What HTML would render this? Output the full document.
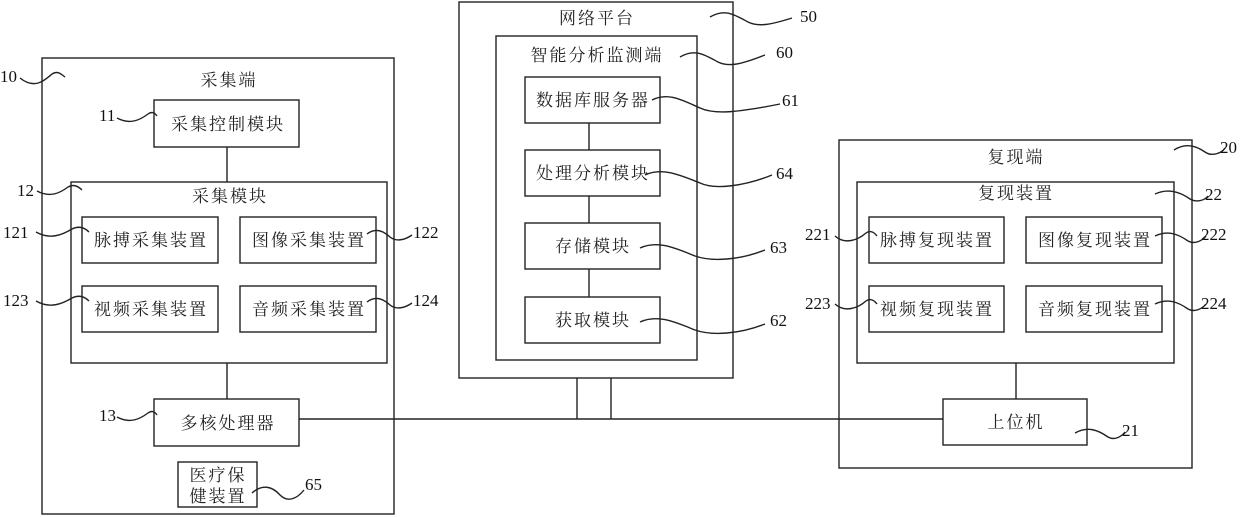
<!DOCTYPE html>
<html><head><meta charset="utf-8"><style>
html,body{margin:0;padding:0;background:#fff;}
svg{display:block}
.c{font-family:"Liberation Serif","Noto Serif CJK SC","Noto Sans CJK SC",serif;font-size:17px;letter-spacing:2px;fill:#222;text-anchor:middle}
.n{font-family:"Liberation Serif",serif;font-size:17px;fill:#111}
</style></head><body>
<svg width="1240" height="517" viewBox="0 0 1240 517" xmlns="http://www.w3.org/2000/svg">
<g fill="none" stroke="#222" stroke-width="1.4">
<rect x="42" y="58" width="352" height="456"/>
<rect x="154" y="100" width="145" height="47"/>
<rect x="71" y="182" width="316" height="181"/>
<rect x="82" y="217" width="136" height="46"/>
<rect x="240" y="217" width="136" height="46"/>
<rect x="82" y="286" width="136" height="46"/>
<rect x="240" y="286" width="136" height="46"/>
<rect x="154" y="399" width="145" height="47"/>
<rect x="178" y="462" width="79" height="45"/>
<line x1="227" y1="147" x2="227" y2="182"/>
<line x1="227" y1="363" x2="227" y2="399"/>
<rect x="459" y="2" width="274" height="376"/>
<rect x="496" y="36" width="201" height="324"/>
<rect x="525" y="77" width="135" height="46"/>
<rect x="525" y="150" width="135" height="46"/>
<rect x="525" y="223" width="135" height="46"/>
<rect x="525" y="297" width="135" height="46"/>
<line x1="589" y1="123" x2="589" y2="150"/>
<line x1="589" y1="196" x2="589" y2="223"/>
<line x1="589" y1="269" x2="589" y2="297"/>
<line x1="577" y1="378" x2="577" y2="419"/>
<line x1="611" y1="378" x2="611" y2="419"/>
<line x1="299" y1="419" x2="943" y2="419"/>
<rect x="839" y="140" width="353" height="328"/>
<rect x="857" y="182" width="317" height="181"/>
<rect x="869" y="217" width="135" height="46"/>
<rect x="1026" y="217" width="136" height="46"/>
<rect x="869" y="286" width="135" height="46"/>
<rect x="1026" y="286" width="136" height="46"/>
<rect x="943" y="399" width="144" height="46"/>
<line x1="1016" y1="363" x2="1016" y2="399"/>
<path d="M20 78 C35 90,45 80,52 74 C58 70,62 75,65 77"/>
<path d="M117 118 C130 125,140 120,148 114 C152 111,155 113,157 116"/>
<path d="M37 191 C50 198,60 193,68 187 C73 184,78 186,82 190"/>
<path d="M36 232 C50 240,62 235,72 229 C78 226,84 227,89 232"/>
<path d="M36 301 C50 309,62 304,72 298 C78 295,84 296,89 301"/>
<path d="M117 417 C130 424,140 419,148 413 C152 410,155 412,157 415"/>
<path d="M367 234 C375 228,382 230,390 237 C396 242,405 240,412 235"/>
<path d="M367 302 C375 296,382 298,390 305 C396 310,405 308,412 303"/>
<path d="M252 493 C262 484,272 486,280 495 C287 502,296 500,304 490"/>
<path d="M710 17 C725 8,735 15,748 22 C758 27,770 25,792 18"/>
<path d="M680 57 C695 48,705 55,718 62 C728 67,740 65,765 55"/>
<path d="M652 100 C668 92,682 100,700 108 C715 115,740 112,780 104"/>
<path d="M645 175 C662 167,680 175,700 183 C715 190,745 186,772 175"/>
<path d="M640 248 C658 240,675 248,695 256 C712 262,740 260,765 250"/>
<path d="M640 322 C658 314,675 322,695 330 C712 336,740 334,765 324"/>
<path d="M1174 150 C1185 143,1195 145,1205 152 C1212 157,1222 153,1225 148"/>
<path d="M1155 194 C1168 188,1180 192,1190 199 C1197 203,1205 200,1208 196"/>
<path d="M835 236 C845 245,858 240,866 233 C870 230,874 232,877 236"/>
<path d="M835 304 C845 313,858 308,866 301 C870 298,874 300,877 304"/>
<path d="M1155 236 C1168 230,1178 234,1188 241 C1195 245,1203 240,1206 236"/>
<path d="M1155 304 C1168 298,1178 302,1188 309 C1195 313,1203 308,1206 304"/>
<path d="M1075 433 C1088 426,1098 430,1108 437 C1115 441,1122 436,1125 432"/>
</g>
<g class="c">
<text x="229" y="86">采集端</text>
<text x="228" y="130">采集控制模块</text>
<text x="230" y="202">采集模块</text>
<text x="151" y="246">脉搏采集装置</text>
<text x="309" y="246">图像采集装置</text>
<text x="151" y="315">视频采集装置</text>
<text x="309" y="315">音频采集装置</text>
<text x="228" y="429">多核处理器</text>
<text x="218" y="481">医疗保</text>
<text x="218" y="502">健装置</text>
<text x="597" y="24">网络平台</text>
<text x="597" y="61">智能分析监测端</text>
<text x="593" y="106">数据库服务器</text>
<text x="593" y="179">处理分析模块</text>
<text x="593" y="252">存储模块</text>
<text x="593" y="326">获取模块</text>
<text x="1016" y="163">复现端</text>
<text x="1016" y="199">复现装置</text>
<text x="937" y="246">脉搏复现装置</text>
<text x="1095" y="246">图像复现装置</text>
<text x="937" y="315">视频复现装置</text>
<text x="1095" y="315">音频复现装置</text>
<text x="1016" y="428">上位机</text>
</g>
<g class="n">
<text x="0" y="82">10</text>
<text x="99" y="121">11</text>
<text x="17" y="196">12</text>
<text x="3" y="238">121</text>
<text x="3" y="306">123</text>
<text x="99" y="421">13</text>
<text x="413" y="238">122</text>
<text x="413" y="306">124</text>
<text x="305" y="490">65</text>
<text x="800" y="22">50</text>
<text x="776" y="58">60</text>
<text x="782" y="106">61</text>
<text x="776" y="179">64</text>
<text x="770" y="253">63</text>
<text x="770" y="326">62</text>
<text x="1220" y="153">20</text>
<text x="1205" y="200">22</text>
<text x="805" y="240">221</text>
<text x="805" y="309">223</text>
<text x="1201" y="240">222</text>
<text x="1201" y="309">224</text>
<text x="1122" y="436">21</text>
</g>
</svg>
</body></html>
